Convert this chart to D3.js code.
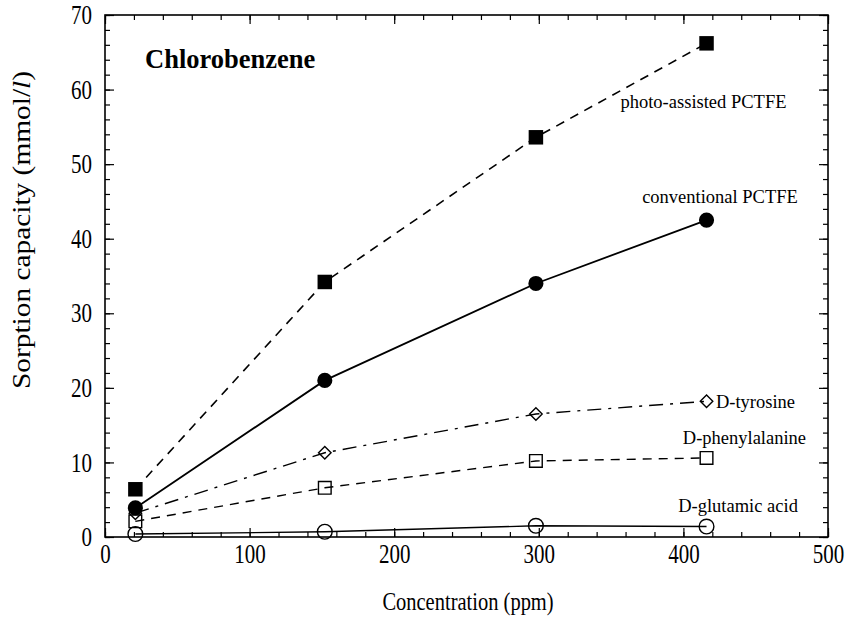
<!DOCTYPE html>
<html>
<head>
<meta charset="utf-8">
<script src="https://cdn.jsdelivr.net/npm/d3@7"></script>
<style>
  body { margin: 0; background: #fff; }
</style>
</head>
<body>
<svg id="chart" width="850" height="628" style="font-family: 'Liberation Serif', 'DejaVu Serif', serif;"></svg>
<script>
// Sorption capacity of imprinted PCTFE films for chlorobenzene
const concentration = [21, 152, 298, 416];          // ppm
const photoAssisted = [6.4, 34.2, 53.6, 66.2];      // mmol/l
const conventional  = [3.9, 21.0, 34.0, 42.5];
const dTyrosine     = [3.2, 11.3, 16.5, 18.2];
const dPhenylalanine= [2.1, 6.6, 10.2, 10.6];
const dGlutamic     = [0.4, 0.7, 1.5, 1.4];

const xTickLabels = [0, 100, 200, 300, 400, 500];
const yTickLabels = [0, 10, 20, 30, 40, 50, 60, 70];

const seriesNames = ["photo-assisted PCTFE", "conventional PCTFE", "D-tyrosine", "D-phenylalanine", "D-glutamic acid"];
const seriesValues = [photoAssisted, conventional, dTyrosine, dPhenylalanine, dGlutamic];

const FONT = "'Liberation Serif', 'DejaVu Serif', serif";
const TALL = 1.28;   // vertical stretch of axis lettering

// drawing style for each series
const styles = [
  { marker: "square",  filled: true,  dash: "9,7",        width: 1.6 },
  { marker: "circle",  filled: true,  dash: null,         width: 1.8 },
  { marker: "diamond", filled: false, dash: "14,7,3,7",   width: 1.4 },
  { marker: "square",  filled: false, dash: "9,7",        width: 1.4 },
  { marker: "circle",  filled: false, dash: null,         width: 1.4 }
];
// label anchors in data units: [x, y, text-anchor]
const labelAnchors = [
  [413.9, 57.5, "middle"],
  [425.3, 44.8, "middle"],
  [422.5, 17.3, "start"],
  [442.2, 12.5, "middle"],
  [437.8, 3.35, "middle"]
];

const svg = d3.select("#chart");
const plotLeft = 105, plotRight = 828, plotTop = 15, plotBottom = 537;

const x = d3.scaleLinear().domain([0, 500]).range([plotLeft, plotRight]);
const y = d3.scaleLinear().domain([0, 70]).range([plotBottom, plotTop]);

const xMinor = d3.range(0, 501, 20);
const yMinor = d3.range(0, 71, 2);

// frame
svg.append("rect")
  .attr("x", plotLeft).attr("y", plotTop)
  .attr("width", plotRight - plotLeft).attr("height", plotBottom - plotTop)
  .attr("fill", "none").attr("stroke", "#000").attr("stroke-width", 1.6);

function inwardAxis(axis, transform) {
  const g = svg.append("g").attr("transform", transform).call(axis);
  g.select(".domain").remove();
  g.attr("font-family", null);
  g.selectAll("line").attr("stroke", "#000").attr("stroke-width", 1.2);
  return g;
}

// minor ticks
inwardAxis(d3.axisBottom(x).tickValues(xMinor).tickSize(-5).tickFormat(""), `translate(0,${plotBottom})`);
inwardAxis(d3.axisTop(x).tickValues(xMinor).tickSize(-5).tickFormat(""), `translate(0,${plotTop})`);
inwardAxis(d3.axisLeft(y).tickValues(yMinor).tickSize(-5).tickFormat(""), `translate(${plotLeft},0)`);
inwardAxis(d3.axisRight(y).tickValues(yMinor).tickSize(-5).tickFormat(""), `translate(${plotRight},0)`);

// major ticks with labels
const gx = inwardAxis(d3.axisBottom(x).tickValues(xTickLabels).tickSize(-9).tickPadding(7).tickFormat(d3.format("d")), `translate(0,${plotBottom})`);
inwardAxis(d3.axisTop(x).tickValues(xTickLabels).tickSize(-9).tickFormat(""), `translate(0,${plotTop})`);
const gy = inwardAxis(d3.axisLeft(y).tickValues(yTickLabels).tickSize(-9).tickPadding(13).tickFormat(d3.format("d")), `translate(${plotLeft},0)`);
inwardAxis(d3.axisRight(y).tickValues(yTickLabels).tickSize(-9).tickFormat(""), `translate(${plotRight},0)`);
svg.selectAll(".tick text")
  .attr("fill", "#000")
  .style("font-family", FONT)
  .style("font-size", "21px")
  .attr("transform", `scale(1,${TALL})`);
gx.selectAll(".tick text").attr("y", 7 / TALL);

// axis titles
svg.append("text")
  .attr("transform", `translate(468,610) scale(1,${TALL})`)
  .attr("text-anchor", "middle")
  .style("font-family", FONT).style("font-size", "20.5px")
  .text("Concentration (ppm)");

const yTitle = svg.append("text")
  .attr("transform", `translate(30, 230) rotate(-90)`)
  .attr("text-anchor", "middle")
  .attr("textLength", 318).attr("lengthAdjust", "spacingAndGlyphs")
  .style("font-family", FONT).style("font-size", "25px");
yTitle.append("tspan").text("Sorption capacity (mmol/");
yTitle.append("tspan").style("font-style", "italic").text("l");
yTitle.append("tspan").text(")");

// chart title
svg.append("text")
  .attr("x", 145).attr("y", 68)
  .style("font-family", FONT).style("font-size", "26.5px").style("font-weight", "bold")
  .text("Chlorobenzene");

// lines
const line = d3.line()
  .x((d, i) => x(concentration[i]))
  .y(d => y(d));

seriesValues.forEach((vals, s) => {
  const st = styles[s];
  svg.append("path")
    .datum(vals)
    .attr("d", line)
    .attr("fill", "none")
    .attr("stroke", "#000")
    .attr("stroke-width", st.width)
    .attr("stroke-dasharray", st.dash);
});

// markers
const symbolType = { square: d3.symbolSquare, circle: d3.symbolCircle, diamond: d3.symbolDiamond2 };
const symbolSize = { square: 210, circle: 180, diamond: 100 };
seriesValues.forEach((vals, s) => {
  const st = styles[s];
  let size = symbolSize[st.marker];
  if (!st.filled && st.marker === "square") size = 160;
  if (!st.filled && st.marker === "circle") size = 170;
  svg.append("g").selectAll("path")
    .data(vals)
    .join("path")
    .attr("transform", (d, i) => `translate(${x(concentration[i])},${y(d)})`)
    .attr("d", d3.symbol().type(symbolType[st.marker]).size(size))
    .attr("fill", st.filled ? "#000" : "none")
    .attr("stroke", "#000")
    .attr("stroke-width", st.filled ? 0 : 1.4);
});

// series labels
seriesNames.forEach((name, s) => {
  const a = labelAnchors[s];
  svg.append("text")
    .attr("x", x(a[0])).attr("y", y(a[1]))
    .attr("text-anchor", a[2])
    .style("font-family", FONT).style("font-size", "18.5px")
    .text(name);
});
</script>
</body>
</html>
